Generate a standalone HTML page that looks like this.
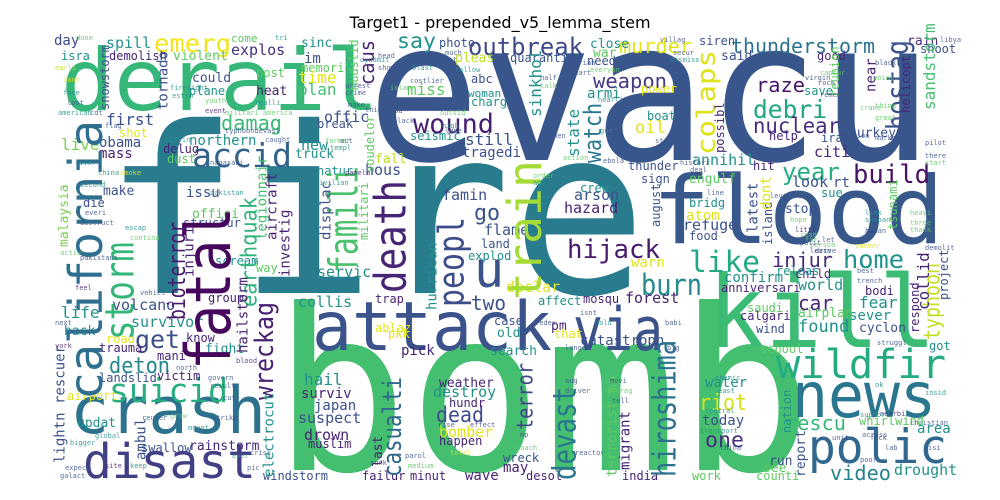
<!DOCTYPE html>
<html><head><meta charset="utf-8">
<style>
html,body{margin:0;padding:0;background:#fff;width:1000px;height:500px;overflow:hidden;}
#wrap{position:relative;width:1000px;height:500px;overflow:hidden;background:#fff;}
svg{display:block;overflow:hidden;}
svg text{font-family:"DejaVu Sans Mono","Liberation Mono",monospace;}
#title{font-family:"DejaVu Sans","Liberation Sans",sans-serif;}
</style></head>
<body>
<div id="wrap">
<svg id="svg" width="1000" height="500" viewBox="0 0 1000 500">
<text id="title" x="500" y="28" font-size="16" text-anchor="middle" fill="#000">Target1 - prepended_v5_lemma_stem</text>
<g id="words"></g>
</svg>
</div>
<script>
// horizontal words: text, x, baseline y, font size, color, target width (0 = natural)
const hWords = [
["evacu",367,160,195,"#39568c",566],
["fire",103,293,232,"#297b8e",544],
["bomb",273,470,225,"#44bf70",540],
["derail",61,110,86,"#35b779",318],
["kill",708,347,100,"#3cbb75",228],
["flood",652,243,94,"#38588c",292],
["attack",312,350,68,"#3b528b",240],
["via",573,350,60,"#3b528b",90],
["crash",70,433,65,"#2c718e",196],
["disast",83,478,48,"#423f85",173],
["news",792,417,62,"#2a768e",144],
["polic",808,463,47,"#31668e",139],
["wildfir",776,378,40,"#25ab82",170],
["u",474,287,50,"#3b528b",0],
["accid",192,167,33,"#33638d",100],
["wound",413,133,27,"#481f70",81],
["outbreak",468,55,24,"#3e4989",115],
["emerg",154,52,25,"#f1e51d",77],
["thunderstorm",731,53,20,"#2c728e",144],
["murder",619,53,20,"#e2e418",73],
["hijack",567,258,26,"#481a6c",93],
["like",689,272,29,"#22a884",71],
["injur",772,267,20,"#472d7b",61],
["home",843,268,25,"#20928c",61],
["burn",641,295,29,"#23898e",61],
["build",853,183,26,"#471365",77],
["year",782,180,24,"#27ad81",58],
["debri",753,118,25,"#21a685",74],
["nuclear",753,133,21,"#472f7d",87],
["raze",756,92,20,"#481467",49],
["weapon",593,88,20,"#443983",74],
["damag",221,130,20,"#3aba76",61],
["say",397,48,21,"#21918c",39],
["suicid",109,402,33,"#29af7f",119],
["deton",109,373,22,"#24878e",61],
["get",135,348,25,"#3c4f8a",45],
["rescu",785,430,20,"#35b779",61],
["riot",699,410,22,"#d8e219",48],
["one",705,447,21,"#46307e",39],
["dead",436,422,21,"#3e4c8a",48],
["video",830,480,20,"#26828e",61],
["two",471,310,20,"#3b528b",35],
["car",798,310,20,"#482475",35],
["go",474,220,22,"#3b528b",26],
["day",54,45,14,"#3e4c8a",0],["spill",106,48,15,"#21918c",0],["come",231,42,11,"#5ec962",0],
["explos",231,55,15,"#46307e",0],["sinc",301,47,13,"#21918c",0],["isra",61,60,12,"#21918c",0],
["demolish",109,60,12,"#482475",0],["violent",173,60,13,"#5ec962",0],["im",304,63,14,"#3b528b",0],
["photo",439,47,12,"#3b528b",0],["close",590,48,13,"#21918c",0],["siren",699,45,12,"#3b528b",0],
["rain",907,45,13,"#46307e",0],["shoot",920,53,12,"#3b528b",0],["said",721,60,13,"#3b528b",0],
["quarantin",510,62,12,"#3b528b",0],["pleas",455,62,13,"#bddf26",0],["war",593,57,13,"#5ec962",0],
["need",587,65,12,"#3b528b",0],["good",817,60,12,"#482475",0],["memori",301,72,12,"#5ec962",0],
["post",256,77,12,"#5ec962",0],["time",298,83,16,"#e2e418",0],["could",192,82,13,"#3b528b",0],
["plan",298,95,16,"#44bf70",0],["plane",189,95,12,"#21918c",0],["heat",256,95,13,"#482475",0],
["miss",407,95,16,"#5ec962",0],["abc",471,83,12,"#3b528b",0],["woman",468,97,11,"#21918c",0],
["charg",471,106,12,"#21918c",0],["armi",587,98,14,"#21918c",0],["power",641,93,12,"#e2e418",0],
["save",804,95,12,"#21918c",0],["oil",635,133,17,"#e2e418",0],["boat",647,120,12,"#21918c",0],
["first",106,125,16,"#3b528b",0],["shot",119,137,12,"#e2e418",0],["offic",324,122,15,"#3b528b",0],
["break",317,128,12,"#3b528b",0],["seismic",410,140,12,"#21918c",0],["still",465,145,16,"#3b528b",0],
["tragedi",462,157,14,"#3b528b",0],["live",61,150,16,"#7ad151",0],["obama",99,147,14,"#3b528b",0],
["mass",99,158,14,"#482475",0],["northern",189,145,14,"#21918c",0],["delug",163,153,12,"#482475",0],
["dust",167,163,12,"#5ec962",0],["new",301,150,15,"#21918c",0],["truck",295,158,13,"#21918c",0],
["fall",375,163,13,"#bddf26",0],["hous",365,175,15,"#3b528b",0],["natur",317,175,12,"#21918c",0],
["citi",814,157,15,"#482475",0],["annihil",692,165,15,"#21918c",0],["hit",753,170,12,"#482475",0],
["thunder",628,170,12,"#3b528b",0],["turkey",849,137,13,"#3b528b",0],["iran",821,142,12,"#3b528b",0],
["help",769,140,12,"#482475",0],["sign",641,183,12,"#3b528b",0],["engulf",689,183,13,"#5ec962",0],
["look",792,187,15,"#3b528b",0],["rt",833,187,14,"#3b528b",0],["crew",580,192,12,"#21918c",0],
["arson",574,200,15,"#3b528b",0],["hazard",564,213,15,"#482475",0],["refuge",683,230,15,"#3b528b",0],
["atom",686,220,14,"#e2e418",0],["bridg",689,207,12,"#21918c",0],["food",689,240,12,"#3b528b",0],
["stop",785,213,13,"#3b528b",0],["sue",821,197,12,"#21918c",0],["issu",186,197,14,"#3b528b",0],
["make",103,195,13,"#3b528b",0],["die",83,207,12,"#3b528b",0],["offici",192,218,13,"#5ec962",0],
["structur",183,227,12,"#3b528b",0],["famin",442,200,15,"#3b528b",0],["flame",484,235,15,"#3b528b",0],
["land",481,248,12,"#3b528b",0],["explod",468,260,12,"#21918c",0],["declar",506,292,15,"#e2e418",0],
["affect",538,305,12,"#21918c",0],["forest",625,303,15,"#482475",0],["mosqu",583,303,12,"#482475",0],
["confirm",724,282,14,"#21918c",0],["anniversari",721,292,12,"#482475",0],["child",795,278,12,"#482475",0],
["world",798,290,15,"#21918c",0],["releas",776,275,12,"#21918c",0],["warn",631,267,14,"#e2e418",0],
["bodi",865,295,12,"#482475",0],["fear",859,308,16,"#21918c",0],["sever",849,320,14,"#21918c",0],
["saudi",747,312,12,"#5ec962",0],["calgari",740,320,12,"#482475",0],["airplan",798,317,13,"#5ec962",0],
["found",798,332,17,"#21918c",0],["cyclon",859,332,13,"#3b528b",0],["wind",756,333,12,"#3b528b",0],
["catastroph",580,345,14,"#3b528b",0],["pm",551,330,13,"#482475",0],["that",554,338,12,"#e2e418",0],
["case",494,325,12,"#3b528b",0],["old",497,337,13,"#21918c",0],["collis",298,307,15,"#21918c",0],
["trap",375,303,12,"#482475",0],["ablaz",375,332,12,"#e2e418",0],["pkk",388,338,12,"#e2e418",0],
["servic",317,277,15,"#21918c",0],["scream",215,265,12,"#21918c",0],["way",256,272,12,"#5ec962",0],
["group",208,302,12,"#482475",0],["volcano",112,310,15,"#3b528b",0],["survivor",131,327,15,"#21918c",0],
["life",61,318,16,"#21918c",0],["back",64,335,13,"#21918c",0],["road",106,343,12,"#e2e418",0],
["trauma",99,352,12,"#482475",0],["know",186,342,12,"#482475",0],["fight",205,353,13,"#21918c",0],
["mani",157,360,12,"#482475",0],["pick",401,355,14,"#482475",0],["search",490,355,13,"#21918c",0],
["landslid",99,382,12,"#3b528b",0],["victim",157,380,12,"#482475",0],["airport",67,400,12,"#e2e418",0],
["hail",304,385,16,"#21918c",0],["weather",439,387,13,"#482475",0],["destroy",433,397,15,"#21918c",0],
["surviv",301,398,14,"#482475",0],["hundr",449,407,12,"#482475",0],["japan",314,410,14,"#3b528b",0],
["suspect",298,423,15,"#3b528b",0],["updat",77,427,13,"#21918c",0],["drown",304,440,15,"#482475",0],
["bomber",439,437,15,"#e2e418",0],["happen",439,445,12,"#482475",0],["muslim",308,448,12,"#482475",0],
["swallow",141,452,12,"#3b528b",0],["rainstorm",189,450,13,"#482475",0],["wreck",503,462,12,"#3b528b",0],
["may",503,472,14,"#482475",0],["windstorm",263,480,12,"#3b528b",0],["failur",362,480,12,"#482475",0],
["minut",410,480,12,"#482475",0],["wave",465,480,14,"#482475",0],["desol",526,480,12,"#482475",0],
["india",622,480,12,"#482475",0],["work",692,480,12,"#5ec962",0],["counti",756,480,12,"#5ec962",0],
["drought",894,475,15,"#21918c",0],["see",763,472,13,"#5ec962",0],["run",769,465,13,"#3b528b",0],
["today",702,425,14,"#3b528b",0],["water",705,387,14,"#21918c",0],["whirlwind",859,425,12,"#5ec962",0],
["area",917,433,14,"#21918c",0],["got",929,350,12,"#21918c",0],["school",760,353,12,"#5ec962",0]
];
// vertical words (read bottom to top): text, left x, bottom y, font size, color, target length (0 = natural)
const vWords = [
["fatal",183,370,62,"#46085c",163],
["california",67,400,46,"#2e6e8e",280],
["storm",103,340,40,"#34b679",98],
["train",506,300,46,"#a5db36",140],
["death",372,293,44,"#482475",113],
["famili",327,273,40,"#4ac16d",107],
["peopl",436,307,36,"#3d4d8a",90],
["hostag",885,130,30,"#3b528b",90],
["colaps",695,155,26,"#dde318",105],
["watch",583,163,24,"#2a788e",60],
["caus",359,85,20,"#482677",45],
["wreckag",253,400,26,"#482173",98],
["bioterror",167,320,24,"#481c6e",98],
["earthquak",240,307,22,"#2fb47c",110],
["casualti",381,477,26,"#30698e",100],
["hiroshima",651,477,32,"#2c728e",137],
["devast",551,480,32,"#2a768e",93],
["terror",516,430,22,"#3f4788",67],
["typhoon",923,340,22,"#c2df23",77],
["sinkhol",529,117,16,"#21918c",0],["state",567,157,16,"#21918c",0],
["legionnair",256,240,14,"#44bf70",0],["investig",279,277,14,"#482475",0],
["injuri",183,277,14,"#482475",0],["hailstorm",237,353,14,"#482475",0],
["malaysia",58,247,13,"#7ad151",0],["snowstorm",100,110,12,"#3b528b",0],
["tornado",157,110,14,"#3b528b",0],["mudslid",349,90,12,"#5ec962",0],
["soudelor",365,173,12,"#5ec962",0],["displac",320,240,14,"#3b528b",0],
["militari",359,240,12,"#5ec962",0],["aircraft",266,240,14,"#482475",0],
["lightn rescuer",54,463,14,"#3b528b",0],["ambul",135,460,14,"#3b528b",0],
["electrocut",263,477,14,"#21918c",0],["last",372,467,13,"#482475",0],
["hurrican",426,310,14,"#21918c",0],["terrorist mp",606,477,14,"#5ec962",0],
["migrant",619,470,14,"#482475",0],["nation",782,433,12,"#21918c",0],
["report",795,477,13,"#3b528b",0],["collid",917,310,16,"#482475",0],
["respond",910,333,12,"#482475",0],["project",939,300,12,"#3b528b",0],
["island",763,245,12,"#3b528b",0],["latest",747,233,14,"#3b528b",0],
["reunion",830,97,12,"#5ec962",0],["helicopt",901,113,12,"#482475",0],
["sandstorm",923,110,16,"#44bf70",0],["near",865,92,14,"#482475",0],
["tsunami",888,230,12,"#5ec962",0],["possibl",715,153,12,"#482475",0],
["august",651,227,12,"#3b528b",0],["dont",760,210,14,"#e2e418",0]
];
// tiny filler words: text, x, y, color
const tinyWords = [
["done",76,40,"#5ec962"],["tri",275,40,"#21918c"],["villag",660,42,"#3b528b"],["libya",940,42,"#3b528b"],
["earli",55,70,"#bddf26"],["cant",63,82,"#e2e418"],["face",63,95,"#21918c"],["lost",67,105,"#3b528b"],
["firefight",170,90,"#21918c"],["estim",172,98,"#21918c"],["youth",205,103,"#5ec962"],["realli",255,105,"#21918c"],
["american",58,115,"#21918c"],["cdt",90,115,"#3b528b"],["militari america",225,115,"#5ec962"],["flag",105,128,"#3b528b"],
["event",205,113,"#482475"],["airlin",165,142,"#21918c"],["caught",265,142,"#3b528b"],["typhoondevast",225,133,"#3b528b"],
["former",325,143,"#5ec962"],["templ",330,150,"#21918c"],["act",340,143,"#3b528b"],["china",98,175,"#21918c"],
["smoke",120,175,"#e2e418"],["civilian",315,185,"#21918c"],["pamela",345,175,"#482475"],["nagasaki",210,165,"#3b528b"],
["second",80,187,"#21918c"],["pakistan",210,195,"#21918c"],["river",75,165,"#21918c"],["escap",125,230,"#21918c"],
["continu",130,240,"#5ec962"],["destruct",80,225,"#3b528b"],["everi",85,215,"#3b528b"],["activ",60,255,"#5ec962"],
["pakistani",80,260,"#3b528b"],["feel",75,290,"#482475"],["vehicl",140,295,"#3b528b"],["next",55,325,"#3b528b"],
["york",55,348,"#482475"],["expect",65,470,"#3b528b"],["galact",60,478,"#3b528b"],["bigger",70,445,"#21918c"],
["global",95,438,"#21918c"],["site",105,468,"#482475"],["keep",130,468,"#21918c"],["pic",247,470,"#3b528b"],
["ever",232,458,"#21918c"],["mount",188,430,"#21918c"],["reuter",142,420,"#3b528b"],["grow",170,418,"#5ec962"],
["strike",212,420,"#3b528b"],["north",176,370,"#3b528b"],["govern",208,380,"#3b528b"],["blood",236,363,"#482475"],
["result",210,388,"#3b528b"],["cut",223,400,"#3b528b"],["crisi",250,455,"#3b528b"],["sunk",370,465,"#3b528b"],
["medium",408,468,"#5ec962"],["parol",405,458,"#3b528b"],["coach",516,450,"#5ec962"],["reactor",575,455,"#3b528b"],
["total",450,455,"#e2e418"],["effect",470,427,"#3b528b"],["rise",438,427,"#3b528b"],["mp",520,437,"#3b528b"],
["fedex",535,325,"#3b528b"],["isnt",580,315,"#3b528b"],["hold",595,325,"#21918c"],["babi",665,325,"#3b528b"],
["longer",565,350,"#3b528b"],["big",667,350,"#3b528b"],["struggl",877,345,"#3b528b"],["trench",857,283,"#3b528b"],
["best",857,273,"#3b528b"],["ok",875,387,"#21918c"],["insid",925,395,"#21918c"],["support",860,417,"#21918c"],
["nearbi",880,416,"#482475"],["christian",910,425,"#3b528b"],["fuck",870,440,"#3b528b"],["lab",885,450,"#3b528b"],
["isi",928,450,"#3b528b"],["unit",832,440,"#3b528b"],["across",862,437,"#3b528b"],["poor",860,462,"#3b528b"],
["china",720,450,"#3b528b"],["love",705,430,"#5ec962"],["transport",700,433,"#21918c"],["central",705,413,"#21918c"],
["chemic",715,380,"#21918c"],["east",718,393,"#21918c"],["movi",610,383,"#3b528b"],["outrag",607,393,"#5ec962"],
["tell",612,403,"#3b528b"],["aug",565,383,"#3b528b"],["driver",565,393,"#3b528b"],["drive",815,253,"#3b528b"],
["learn",810,253,"#3b528b"],["person",810,247,"#5ec962"],["summer",855,248,"#e2e418"],["demolit",925,250,"#3b528b"],
["heavi",910,215,"#5ec962"],["three",910,225,"#5ec962"],["thank",910,232,"#5ec962"],["link",865,215,"#21918c"],
["saipan",865,222,"#21918c"],["human",865,233,"#3b528b"],["hope",790,222,"#5ec962"],["littl",795,232,"#482475"],
["level",770,198,"#3b528b"],["line",707,195,"#3b528b"],["far",805,242,"#5ec962"],["let",822,242,"#3b528b"],
["polit",800,245,"#3b528b"],["read",800,237,"#5ec962"],["order",533,178,"#5ec962"],["ago",533,185,"#21918c"],
["histori",680,165,"#3b528b"],["deal",690,172,"#3b528b"],["action",563,160,"#5ec962"],["ebola",603,163,"#3b528b"],
["street",655,143,"#3b528b"],["million",840,138,"#3b528b"],["men",553,138,"#3b528b"],["market",875,140,"#3b528b"],
["pilot",925,145,"#3b528b"],["there",925,158,"#3b528b"],["start",925,165,"#5ec962"],["great",875,120,"#5ec962"],
["thing",875,108,"#5ec962"],["point",873,80,"#5ec962"],["black",875,65,"#3b528b"],["crane",860,110,"#5ec962"],
["rock",818,85,"#3b528b"],["captur",820,75,"#5ec962"],["rememb",820,97,"#3b528b"],["virgin",805,80,"#3b528b"],
["half",540,80,"#3b528b"],["talk",540,88,"#5ec962"],["heart",570,75,"#3b528b"],["marian",570,65,"#3b528b"],
["everyon",590,72,"#5ec962"],["dismiss",670,62,"#21918c"],["secur",673,55,"#3b528b"],["gun",600,133,"#21918c"],
["nearli",598,102,"#21918c"],["follow",455,72,"#21918c"],["much",445,55,"#3b528b"],["blast",412,70,"#21918c"],
["must",440,62,"#3b528b"],["head",378,58,"#3b528b"],["show",378,70,"#3b528b"],["dynamit",360,62,"#21918c"],
["costlier",410,83,"#3b528b"],["islam",390,90,"#5ec962"],["arrest",345,88,"#3b528b"],["crime",345,95,"#3b528b"],
["make",348,107,"#3b528b"],["provok",390,105,"#3b528b"],["think",365,112,"#3b528b"],["usa",390,113,"#3b528b"],
["outsid",440,115,"#5ec962"],["high",442,128,"#21918c"],["lane",445,133,"#3b528b"],["black",393,123,"#3b528b"]
];

const g = document.getElementById('words');
const NS = 'http://www.w3.org/2000/svg';

hWords.forEach(w => {
  const t = document.createElementNS(NS, 'text');
  t.setAttribute('x', w[1]);
  t.setAttribute('y', w[2]);
  t.setAttribute('font-size', w[3]);
  t.setAttribute('fill', w[4]);
  if (w[5] > 0) { t.setAttribute('textLength', w[5]); t.setAttribute('lengthAdjust', 'spacingAndGlyphs'); }
  t.textContent = w[0];
  
  
  g.appendChild(t);
});

vWords.forEach(w => {
  const t = document.createElementNS(NS, 'text');
  const bx = w[1] + 0.76 * w[3];
  const by = w[2];
  t.setAttribute('x', bx);
  t.setAttribute('y', by);
  t.setAttribute('transform', 'rotate(-90 ' + bx + ' ' + by + ')');
  t.setAttribute('font-size', w[3]);
  t.setAttribute('fill', w[4]);
  if (w[5] > 0) { t.setAttribute('textLength', w[5]); t.setAttribute('lengthAdjust', 'spacingAndGlyphs'); }
  t.textContent = w[0];
  
  
  g.appendChild(t);
});

tinyWords.forEach(w => {
  const t = document.createElementNS(NS, 'text');
  t.setAttribute('x', w[1]);
  t.setAttribute('y', w[2]);
  t.setAttribute('font-size', 7);
  t.setAttribute('fill', w[3]);
  t.setAttribute('opacity', '0.85');
  t.textContent = w[0];
  
  
  g.appendChild(t);
});
</script>
</body></html>
